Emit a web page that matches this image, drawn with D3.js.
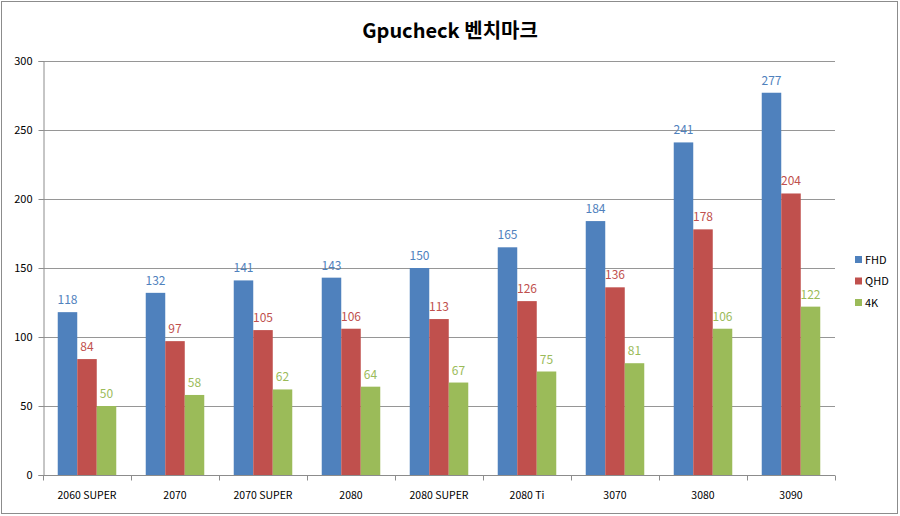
<!DOCTYPE html>
<html>
<head>
<meta charset="utf-8">
<script src="https://cdn.jsdelivr.net/npm/d3@7"></script>
<style>
  body { margin: 0; background: #fff; }
  text { font-family: "Noto Sans CJK KR", "Noto Sans", sans-serif; }
</style>
</head>
<body>
<div id="chart"></div>
<script>
var categories = ["2060 SUPER", "2070", "2070 SUPER", "2080", "2080 SUPER", "2080 Ti", "3070", "3080", "3090"];
var seriesNames = ["FHD", "QHD", "4K"];
var fhd = [118, 132, 141, 143, 150, 165, 184, 241, 277];
var qhd = [84, 97, 105, 106, 113, 126, 136, 178, 204];
var uhd = [50, 58, 62, 64, 67, 75, 81, 106, 122];
var yTicks = [0, 50, 100, 150, 200, 250, 300];
var colors = ["#4F81BD", "#C0504D", "#9BBB59"];

var width = 900, height = 516;
var margin = {top: 61, right: 65, bottom: 41, left: 43};

var svg = d3.select("#chart").append("svg")
    .attr("width", width)
    .attr("height", height);

// outer frame
svg.append("rect")
    .attr("x", 1.5).attr("y", 1.5)
    .attr("width", width - 4).attr("height", height - 4)
    .attr("fill", "none")
    .attr("stroke", "#8c8c8c")
    .attr("stroke-width", 1);

svg.append("text")
    .attr("x", 450).attr("y", 38)
    .attr("text-anchor", "middle")
    .attr("font-size", 20)
    .attr("font-weight", "bold")
    .attr("fill", "#000")
    .text("Gpucheck 벤치마크");

var x0 = d3.scaleBand()
    .domain(categories)
    .range([margin.left, width - margin.right])
    .paddingInner(0.335)
    .paddingOuter(0.1675);

var x1 = d3.scaleBand()
    .domain(seriesNames)
    .range([0, x0.bandwidth()]);

var y = d3.scaleLinear()
    .domain([0, 300])
    .range([height - margin.bottom, margin.top]);

// gridlines
svg.append("g")
    .selectAll("line")
    .data(yTicks.slice(1))
    .enter()
    .append("line")
    .attr("x1", margin.left)
    .attr("x2", width - margin.right)
    .attr("y1", function(d) { return Math.round(y(d)) + 0.5; })
    .attr("y2", function(d) { return Math.round(y(d)) + 0.5; })
    .attr("stroke", "#969696");

var series = [fhd, qhd, uhd];

var groups = svg.append("g")
    .selectAll("g")
    .data(categories)
    .enter()
    .append("g")
    .attr("transform", function(d) { return "translate(" + x0(d) + ",0)"; });

groups.selectAll("rect")
    .data(function(d, i) {
      return seriesNames.map(function(s, j) { return {s: s, v: series[j][i], c: colors[j]}; });
    })
    .enter()
    .append("rect")
    .attr("x", function(d) { return x1(d.s); })
    .attr("y", function(d) { return y(d.v); })
    .attr("width", x1.bandwidth())
    .attr("height", function(d) { return y(0) - y(d.v); })
    .attr("fill", function(d) { return d.c; });

groups.selectAll("text")
    .data(function(d, i) {
      return seriesNames.map(function(s, j) { return {s: s, v: series[j][i], c: colors[j]}; });
    })
    .enter()
    .append("text")
    .attr("x", function(d) { return x1(d.s) + x1.bandwidth() / 2; })
    .attr("y", function(d) { return y(d.v) - 8; })
    .attr("text-anchor", "middle")
    .attr("font-size", 12)
    .attr("fill", function(d) { return d.c; })
    .text(function(d) { return d.v; });

// y axis
var yAxis = svg.append("g")
    .attr("transform", "translate(" + (margin.left + 0.5) + ",0)")
    .call(d3.axisLeft(y).tickValues(yTicks).tickSize(5).tickPadding(6));
yAxis.select(".domain").attr("stroke", "#8c8c8c");
yAxis.selectAll(".tick line").attr("stroke", "#8c8c8c");
yAxis.selectAll(".tick text").attr("font-size", 11).attr("fill", "#000")
    .style("font-family", "'Noto Sans CJK KR', sans-serif");

// x axis with ticks on category boundaries
var xAxis = svg.append("g")
    .attr("transform", "translate(0," + (y(0) + 0.5) + ")");
xAxis.append("line")
    .attr("x1", margin.left).attr("x2", width - margin.right)
    .attr("stroke", "#8c8c8c");
var bounds = categories.map(function(c) { return x0(c) - x0.step() * x0.paddingOuter(); });
bounds.push(width - margin.right);
xAxis.selectAll("line.tk")
    .data(bounds)
    .enter()
    .append("line")
    .attr("class", "tk")
    .attr("x1", function(d) { return Math.round(d) + 0.5; })
    .attr("x2", function(d) { return Math.round(d) + 0.5; })
    .attr("y1", 0).attr("y2", 5)
    .attr("stroke", "#8c8c8c");
xAxis.selectAll("text")
    .data(categories)
    .enter()
    .append("text")
    .attr("x", function(d) { return x0(d) + x0.bandwidth() / 2; })
    .attr("y", 23)
    .attr("text-anchor", "middle")
    .attr("font-size", 10.5)
    .attr("fill", "#000")
    .text(function(d) { return d; });

// legend
var legend = svg.append("g")
    .selectAll("g")
    .data(seriesNames)
    .enter()
    .append("g")
    .attr("transform", function(d, i) { return "translate(855," + (256 + i * 21.5) + ")"; });
legend.append("rect")
    .attr("width", 7).attr("height", 7)
    .attr("fill", function(d, i) { return colors[i]; });
legend.append("text")
    .attr("x", 10).attr("y", 7.5)
    .attr("font-size", 11)
    .attr("fill", "#000")
    .text(function(d) { return d; });
</script>
</body>
</html>
